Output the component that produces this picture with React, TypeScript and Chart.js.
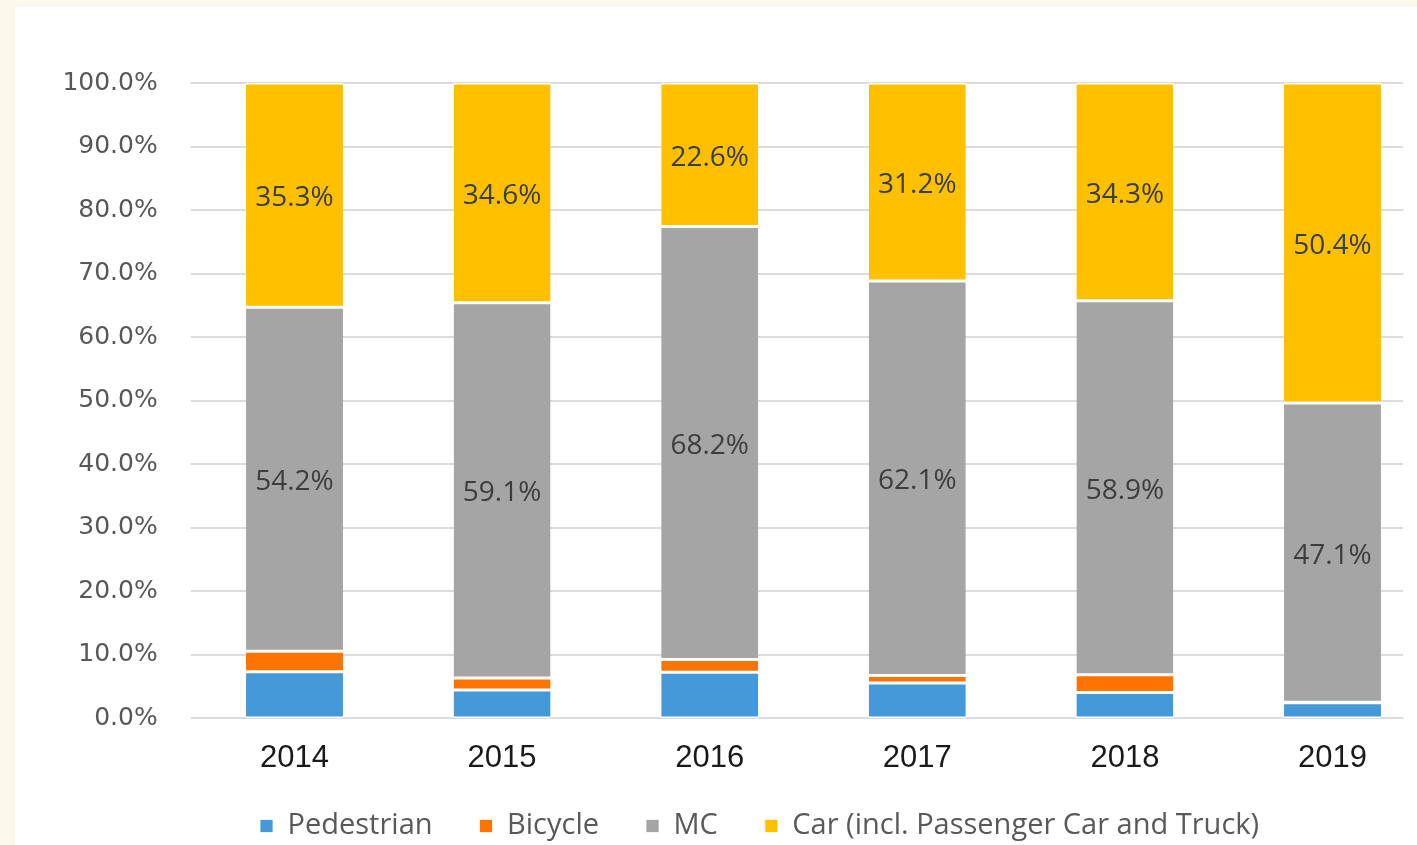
import React, { useEffect, useRef } from "react";
import { Chart, registerables } from "chart.js";

Chart.register(...registerables);

const years = ["2014", "2015", "2016", "2017", "2018", "2019"];
const pedestrian = [7.3, 4.4, 7.2, 5.5, 4.0, 2.4];
const bicycle = [3.2, 1.9, 2.0, 1.2, 2.8, 0.1];
const mc = [54.2, 59.1, 68.2, 62.1, 58.9, 47.1];
const car = [35.3, 34.6, 22.6, 31.2, 34.3, 50.4];
const seriesNames = ["Pedestrian", "Bicycle", "MC", "Car (incl. Passenger Car and Truck)"];
const seriesColors = ["#4599D8", "#FF7300", "#A5A5A5", "#FFC000"];
const labeledSeries = [2, 3];

const gridPlugin = {
  id: "customGrid",
  beforeDatasetsDraw(chart: any) {
    const { ctx, chartArea, scales } = chart;
    const y = scales.y;
    ctx.save();
    ctx.strokeStyle = "#dcdcdc";
    ctx.lineWidth = 2;
    y.ticks.forEach((t: any) => {
      const py = Math.round(y.getPixelForValue(t.value));
      ctx.beginPath();
      ctx.moveTo(chartArea.left, py);
      ctx.lineTo(chartArea.right - 33, py);
      ctx.stroke();
    });
    ctx.restore();
  },
};

// place the legend row where the original has it
const legendPlacePlugin = {
  id: "legendPlace",
  afterLayout(chart: any) {
    const lg = chart.legend;
    if (!lg) return;
    const dx = 41.4;
    const targetTop = 764.5;
    const dy = targetTop - lg.top;
    lg.left += dx;
    lg.right += dx;
    lg.top += dy;
    lg.bottom += dy;
  },
};

const labelPlugin = {
  id: "segmentLabels",
  afterDatasetsDraw(chart: any) {
    const { ctx } = chart;
    ctx.save();
    ctx.font = "28px 'Open Sans'";
    ctx.fillStyle = "#3d3d3d";
    ctx.textAlign = "center";
    ctx.textBaseline = "middle";
    labeledSeries.forEach((di) => {
      const meta = chart.getDatasetMeta(di);
      const data = chart.data.datasets[di].data as number[];
      meta.data.forEach((bar: any, i: number) => {
        const { x, y, base } = bar.getProps(["x", "y", "base"], true);
        ctx.fillText(data[i].toFixed(1) + "%", x, (y + base) / 2 + 3);
      });
    });
    ctx.restore();
  },
};

export default function App() {
  const canvasRef = useRef<HTMLCanvasElement | null>(null);

  useEffect(() => {
    if (!canvasRef.current) return;
    const values = [pedestrian, bicycle, mc, car];
    const chart = new Chart(canvasRef.current, {
      type: "bar",
      data: {
        labels: years,
        datasets: values.map((v, i) => ({
          label: seriesNames[i],
          data: v,
          backgroundColor: seriesColors[i],
          borderColor: "#ffffff",
          borderWidth: { top: 1.5, bottom: 1.5, left: 0, right: 0 },
          borderSkipped: false,
          barPercentage: 1,
          categoryPercentage: 0.467,
        })),
      },
      options: {
        animation: false,
        responsive: false,
        maintainAspectRatio: false,
        layout: { padding: { top: 83, left: 0, right: 23.7, bottom: 0 } },
        plugins: {
          tooltip: { enabled: false },
          legend: {
            position: "bottom",
            labels: {
              boxWidth: 13,
              boxHeight: 13,
              padding: 47,
              color: "#595959",
              font: { family: "'Open Sans'", size: 29 },
            },
          },
        },
        scales: {
          x: {
            stacked: true,
            grid: { display: false, drawTicks: false },
            border: { display: false },
            ticks: {
              padding: 22,
              color: "#1a1a1a",
              font: { family: "'Liberation Sans'", size: 31 },
            },
            afterFit(scale: any) {
              scale.height = 65;
            },
          },
          y: {
            stacked: true,
            min: 0,
            max: 100,
            grid: { display: false, drawTicks: false },
            border: { display: false },
            ticks: {
              stepSize: 10,
              padding: 33,
              color: "#585858",
              font: { family: "'DejaVu Sans'", size: 25 },
              callback: (v: any) => Number(v).toFixed(1) + "%",
            },
            afterFit(scale: any) {
              scale.width = 190.7;
            },
          },
        },
      },
      plugins: [gridPlugin, labelPlugin, legendPlacePlugin],
    });
    return () => chart.destroy();
  }, []);

  return (
    <div
      style={{
        position: "fixed",
        left: 0,
        top: 0,
        width: "100vw",
        height: "100vh",
        overflow: "hidden",
        background: "#fdf8ec",
      }}
    >
      <div
        style={{
          position: "absolute",
          left: 15,
          top: 7,
          width: 1500,
          height: 900,
          background: "#ffffff",
        }}
      />
      <canvas
        ref={canvasRef}
        width={1460}
        height={869}
        style={{ position: "absolute", left: 0, top: 0, width: 1460, height: 869 }}
      />
    </div>
  );
}
